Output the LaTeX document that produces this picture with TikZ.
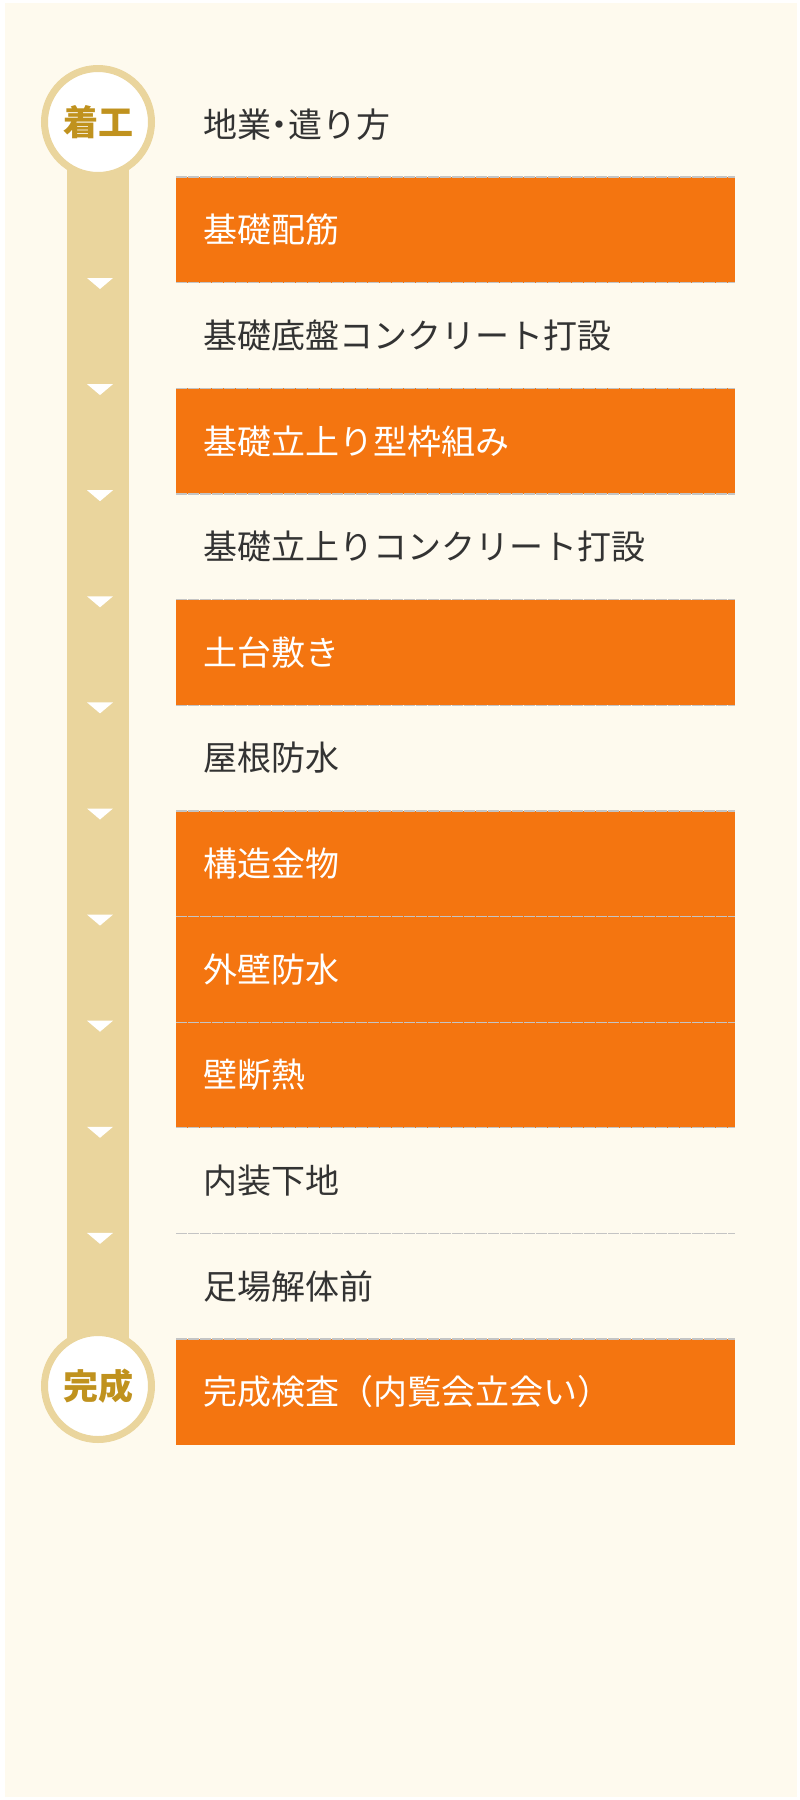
\documentclass[tikz,border=0pt]{standalone}
\usepackage{fontspec}
\setmainfont{Noto Sans CJK JP}
\usetikzlibrary{positioning}

\definecolor{cream}{HTML}{FEFAEE}
\definecolor{tan}{HTML}{EAD59D}
\definecolor{gold}{HTML}{C0921E}
\definecolor{kiln}{HTML}{F47510}
\definecolor{ink}{HTML}{333333}
\definecolor{rule}{HTML}{C4C4C4}

\tikzset{
  stage/.style={rectangle, anchor=north west, outer sep=0pt,
    text width=505pt, inner xsep=27pt, inner ysep=0pt, align=left,
    minimum height=105.64pt, text=ink,
    font=\fontsize{34}{40}\selectfont},
  hot/.style={stage, fill=kiln, text=white},
  milestone/.style={circle, fill=white, draw=tan, line width=7pt,
    minimum size=107pt, inner sep=0pt, text=gold,
    font=\bfseries\fontsize{35}{40}\selectfont},
  sepline/.style={rule, line width=1.3pt, dash pattern=on 11pt off 1pt}
}

\begin{document}
\begin{tikzpicture}[x=1pt, y=-1pt]

% page
\fill[white] (0,0) rectangle (800,1800);
\fill[cream] (5,3) rectangle (797,1797);
\useasboundingbox (0,0) rectangle (800,1800);

% timeline
\coordinate (top) at (98,122);
\coordinate (bot) at (98,1386);
\fill[tan] ([xshift=-31pt]top) rectangle ([xshift=31pt]bot);
\foreach \i in {0,...,9}
  \fill[white] (87,{278+106.1*\i}) -- ++(26,0) -- ++(-13,11) -- cycle;
\node[milestone] (start) at (top) {着工};
\node[milestone] (finish) at (bot) {完成};

% steps
\node[stage] (r1) at (176,71.4) {地業\kern-8.5pt・\kern-8.5pt遣り方};
\node[hot] (r2) [below=0pt of r1] {基礎配筋};
\node[stage] (r3) [below=0pt of r2] {基礎底盤コンクリート打設};
\node[hot] (r4) [below=0pt of r3] {基礎立上り型枠組み};
\node[stage] (r5) [below=0pt of r4] {基礎立上りコンクリート打設};
\node[hot] (r6) [below=0pt of r5] {土台敷き};
\node[stage] (r7) [below=0pt of r6] {屋根防水};
\node[hot] (r8) [below=0pt of r7] {構造金物};
\node[hot] (r9) [below=0pt of r8] {外壁防水};
\node[hot] (r10) [below=0pt of r9] {壁断熱};
\node[stage] (r11) [below=0pt of r10] {内装下地};
\node[stage] (r12) [below=0pt of r11] {足場解体前};
\node[hot] (r13) [below=0pt of r12] {完成検査（内覧会立会い）};

\foreach \n in {1,...,12}
  \draw[sepline] (r\n.south west) -- (r\n.south east);

\end{tikzpicture}
\end{document}
